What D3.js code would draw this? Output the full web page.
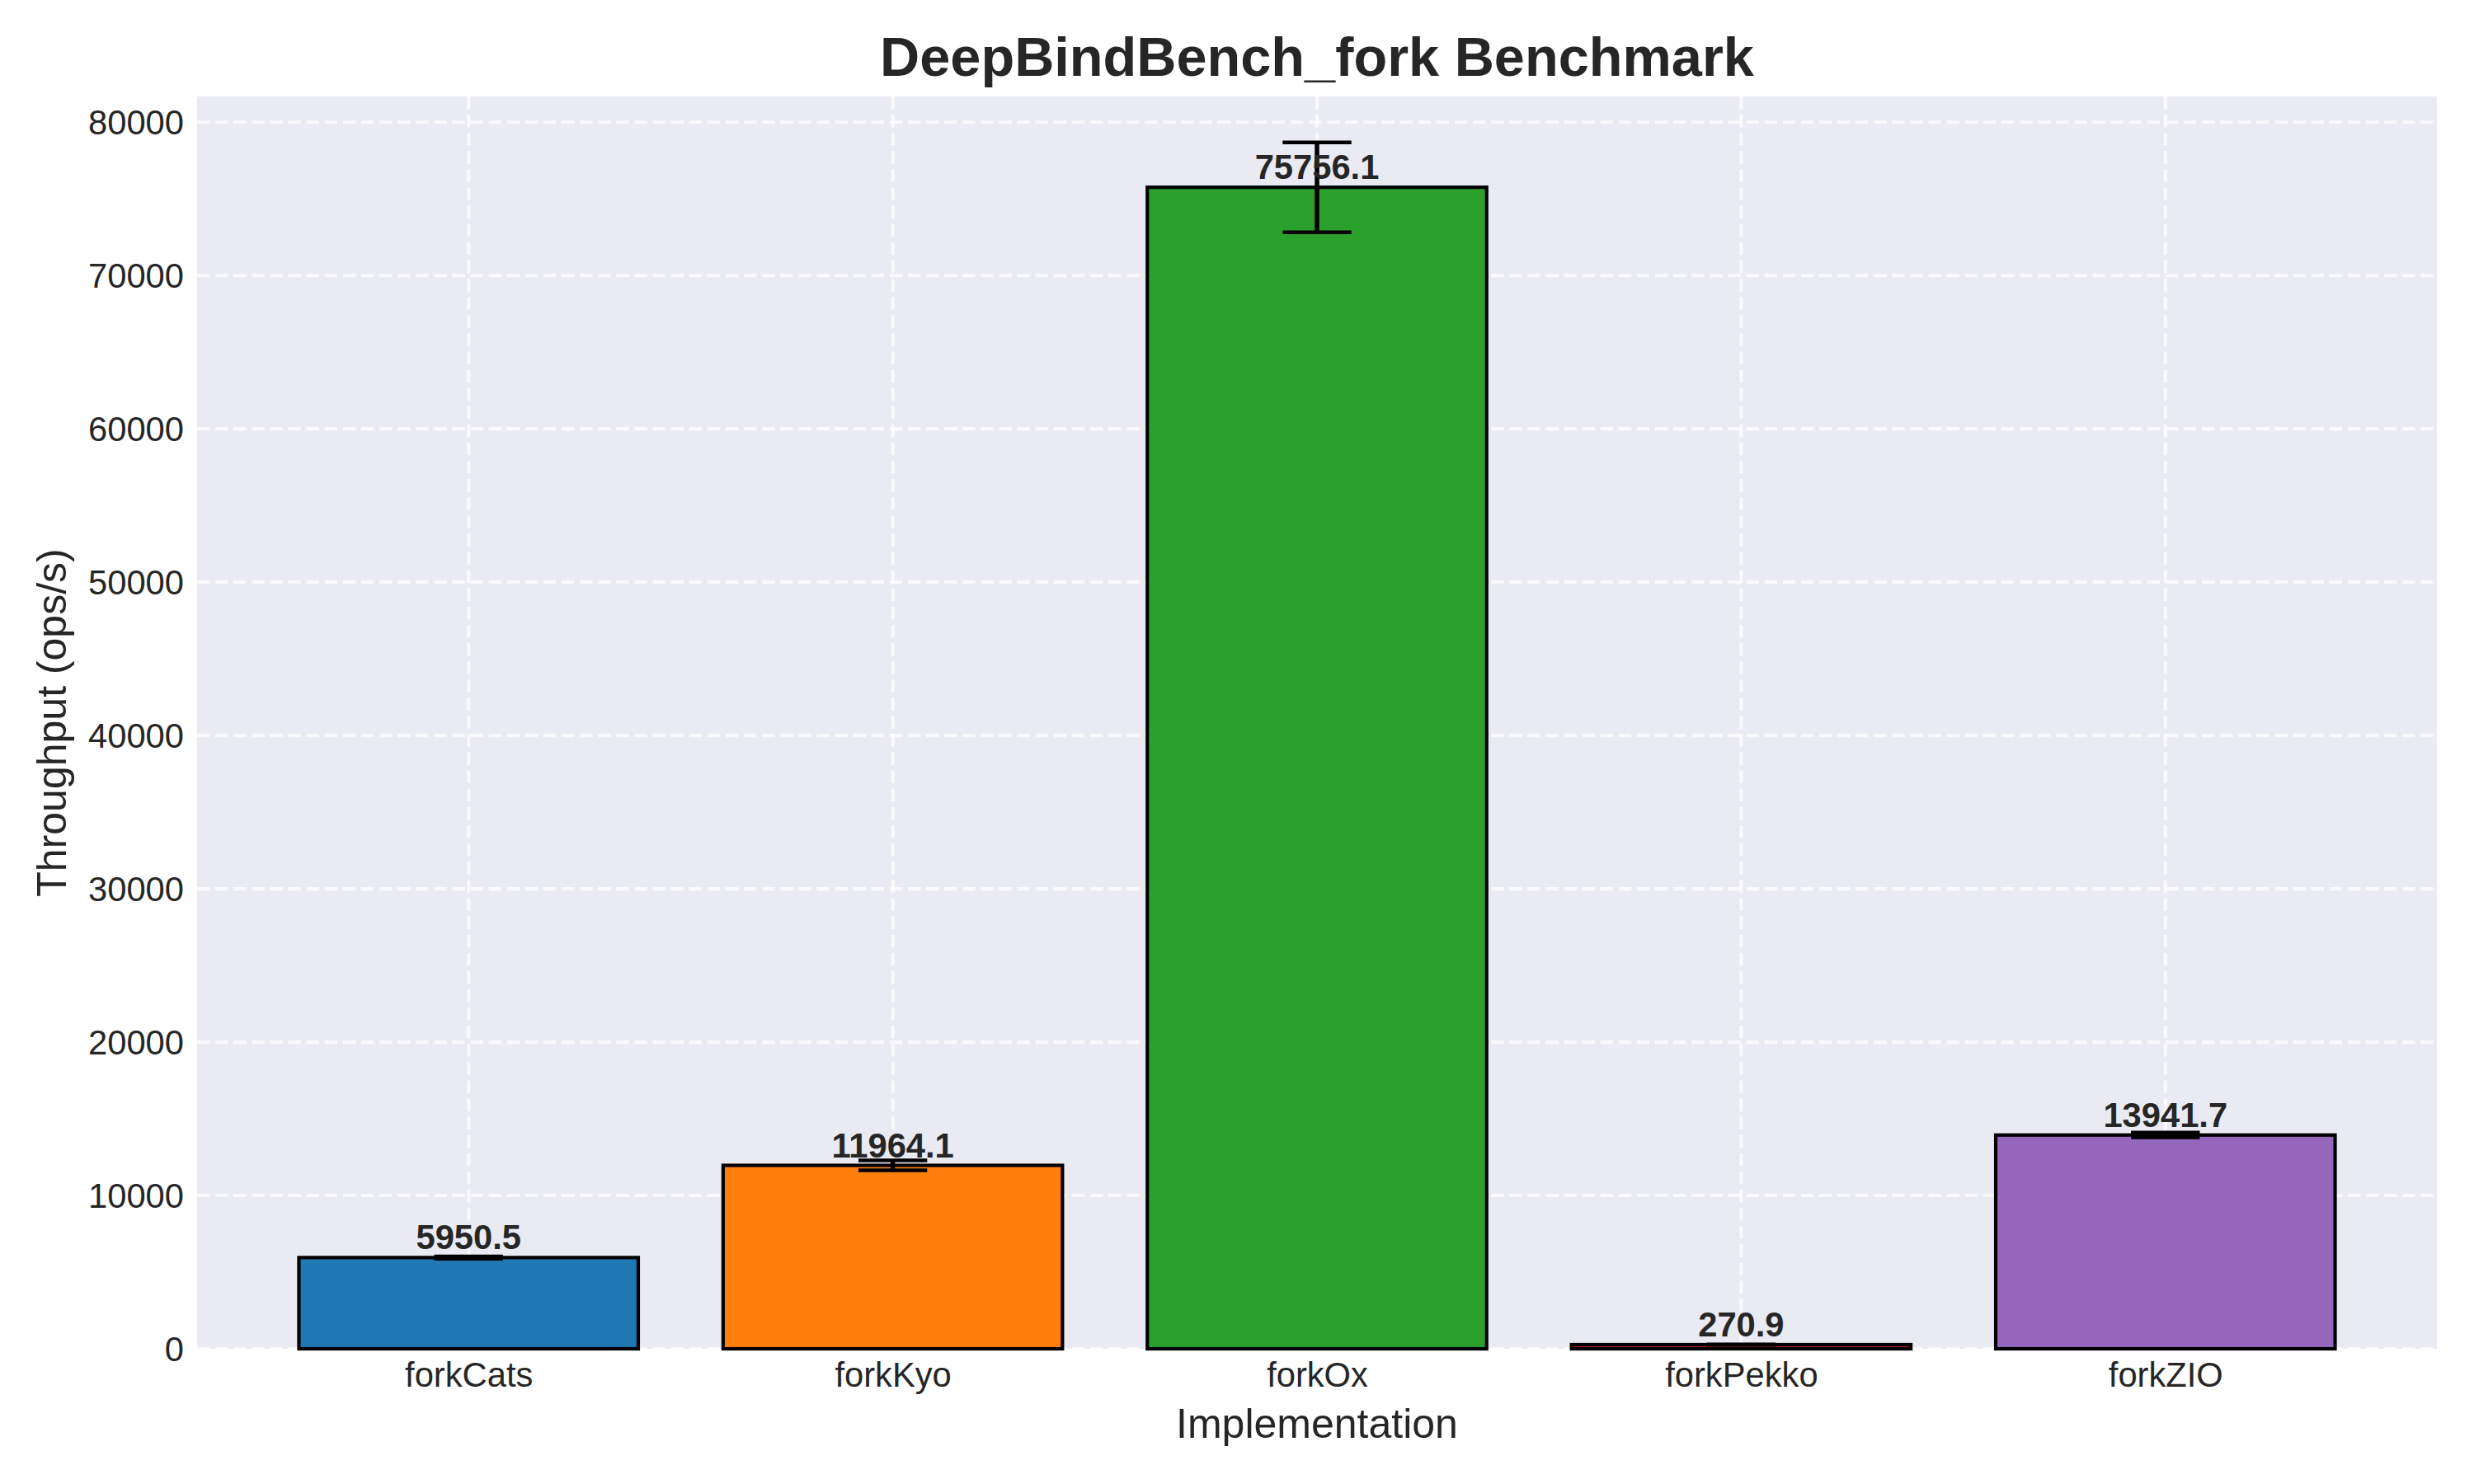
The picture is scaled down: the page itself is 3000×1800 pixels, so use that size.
<!DOCTYPE html>
<html>
<head>
<meta charset="utf-8">
<script src="https://cdn.jsdelivr.net/npm/d3@7"></script>
<style>
  html, body { margin: 0; padding: 0; background: #ffffff; }
  svg { display: block; }
  text { font-family: "Liberation Sans", Arial, sans-serif; fill: #262626; }
</style>
</head>
<body>
<svg id="chart" width="3000" height="1800"></svg>
<script>
// ---- data ----
const categories = ["forkCats", "forkKyo", "forkOx", "forkPekko", "forkZIO"];
const throughput = [5950.5, 11964.1, 75756.1, 270.9, 13941.7];
const errors = [70, 320, 2930, 15, 155];
const barColors = ["#1f77b4", "#ff7f0e", "#2ca02c", "#d62728", "#9467bd"];
const yTicks = [0, 10000, 20000, 30000, 40000, 50000, 60000, 70000, 80000];
const titleText = "DeepBindBench_fork Benchmark";
const xLabelText = "Implementation";
const yLabelText = "Throughput (ops/s)";

// ---- layout ----
const W = 3000, H = 1800;
const plot = { left: 239, right: 2955, top: 117, bottom: 1636 };
const barWidth = 0.8;
const yMax = 81680;

const svg = d3.select("#chart");

const x = d3.scaleLinear()
  .domain([-0.64, categories.length - 1 + 0.64])
  .range([plot.left, plot.right]);
const y = d3.scaleLinear()
  .domain([0, yMax])
  .range([plot.bottom, plot.top]);

// background
svg.append("rect")
  .attr("x", plot.left).attr("y", plot.top)
  .attr("width", plot.right - plot.left)
  .attr("height", plot.bottom - plot.top)
  .attr("fill", "#eaeaf2");

// grid
const grid = svg.append("g");
grid.selectAll("line.h").data(yTicks).enter().append("line")
  .attr("x1", plot.left).attr("x2", plot.right)
  .attr("y1", d => y(d)).attr("y2", d => y(d))
  .attr("stroke", "#ffffff").attr("stroke-opacity", 0.7)
  .attr("stroke-width", 4.17).attr("stroke-dasharray", "15.4,6.7");
grid.selectAll("line.v").data(categories).enter().append("line")
  .attr("x1", (d, i) => x(i)).attr("x2", (d, i) => x(i))
  .attr("y1", plot.top).attr("y2", plot.bottom)
  .attr("stroke", "#ffffff").attr("stroke-opacity", 0.7)
  .attr("stroke-width", 4.17).attr("stroke-dasharray", "15.4,6.7");

// axes (no tick marks / no domain line)
const yAxis = d3.axisLeft(y).tickValues(yTicks).tickSize(0).tickPadding(16)
  .tickFormat(d3.format("d"));
const gy = svg.append("g").attr("transform", `translate(${plot.left},0)`).call(yAxis);
gy.select(".domain").remove();
gy.selectAll("text").attr("font-size", 41.7)
  .attr("font-family", "Liberation Sans, Arial, sans-serif").attr("fill", "#262626")
  .attr("dy", "0.35em");

const xAxis = d3.axisBottom(x).tickValues(categories.map((d, i) => i)).tickSize(0).tickPadding(0)
  .tickFormat(i => categories[i]);
const gx = svg.append("g").attr("transform", `translate(0,${plot.bottom})`).call(xAxis);
gx.select(".domain").remove();
gx.selectAll("text").attr("font-size", 41.7)
  .attr("font-family", "Liberation Sans, Arial, sans-serif").attr("fill", "#262626")
  .attr("dy", null).attr("y", 46);

// bars
svg.append("g").selectAll("rect").data(throughput).enter().append("rect")
  .attr("x", (d, i) => x(i - barWidth / 2))
  .attr("width", (d, i) => x(i + barWidth / 2) - x(i - barWidth / 2))
  .attr("y", d => y(d))
  .attr("height", d => y(0) - y(d))
  .attr("fill", (d, i) => barColors[i])
  .attr("stroke", "#000000")
  .attr("stroke-width", 4.17);

// error bars
const capHalf = 41.7;
const eb = svg.append("g");
throughput.forEach((v, i) => {
  const cx = x(i);
  const lo = y(v - errors[i]), hi = y(v + errors[i]);
  eb.append("line").attr("x1", cx).attr("x2", cx).attr("y1", lo).attr("y2", hi)
    .attr("stroke", "#000").attr("stroke-width", 5.5);
  [lo, hi].forEach(yy => {
    eb.append("line").attr("x1", cx - capHalf).attr("x2", cx + capHalf)
      .attr("y1", yy).attr("y2", yy)
      .attr("stroke", "#000").attr("stroke-width", 4.5);
  });
});

// value labels
svg.append("g").selectAll("text").data(throughput).enter().append("text")
  .attr("x", (d, i) => x(i))
  .attr("y", d => y(d) - 10)
  .attr("text-anchor", "middle")
  .attr("font-size", 41.7)
  .attr("font-weight", "bold")
  .text(d => d3.format(".1f")(d));

// title
svg.append("text")
  .attr("x", (plot.left + plot.right) / 2).attr("y", 92)
  .attr("text-anchor", "middle")
  .attr("font-size", 66.7).attr("font-weight", "bold")
  .text(titleText);

// axis labels
svg.append("text")
  .attr("x", (plot.left + plot.right) / 2).attr("y", 1744)
  .attr("text-anchor", "middle").attr("font-size", 50)
  .text(xLabelText);
svg.append("text")
  .attr("transform", `translate(80,${(plot.top + plot.bottom) / 2}) rotate(-90)`)
  .attr("text-anchor", "middle").attr("font-size", 50)
  .text(yLabelText);
</script>
</body>
</html>
